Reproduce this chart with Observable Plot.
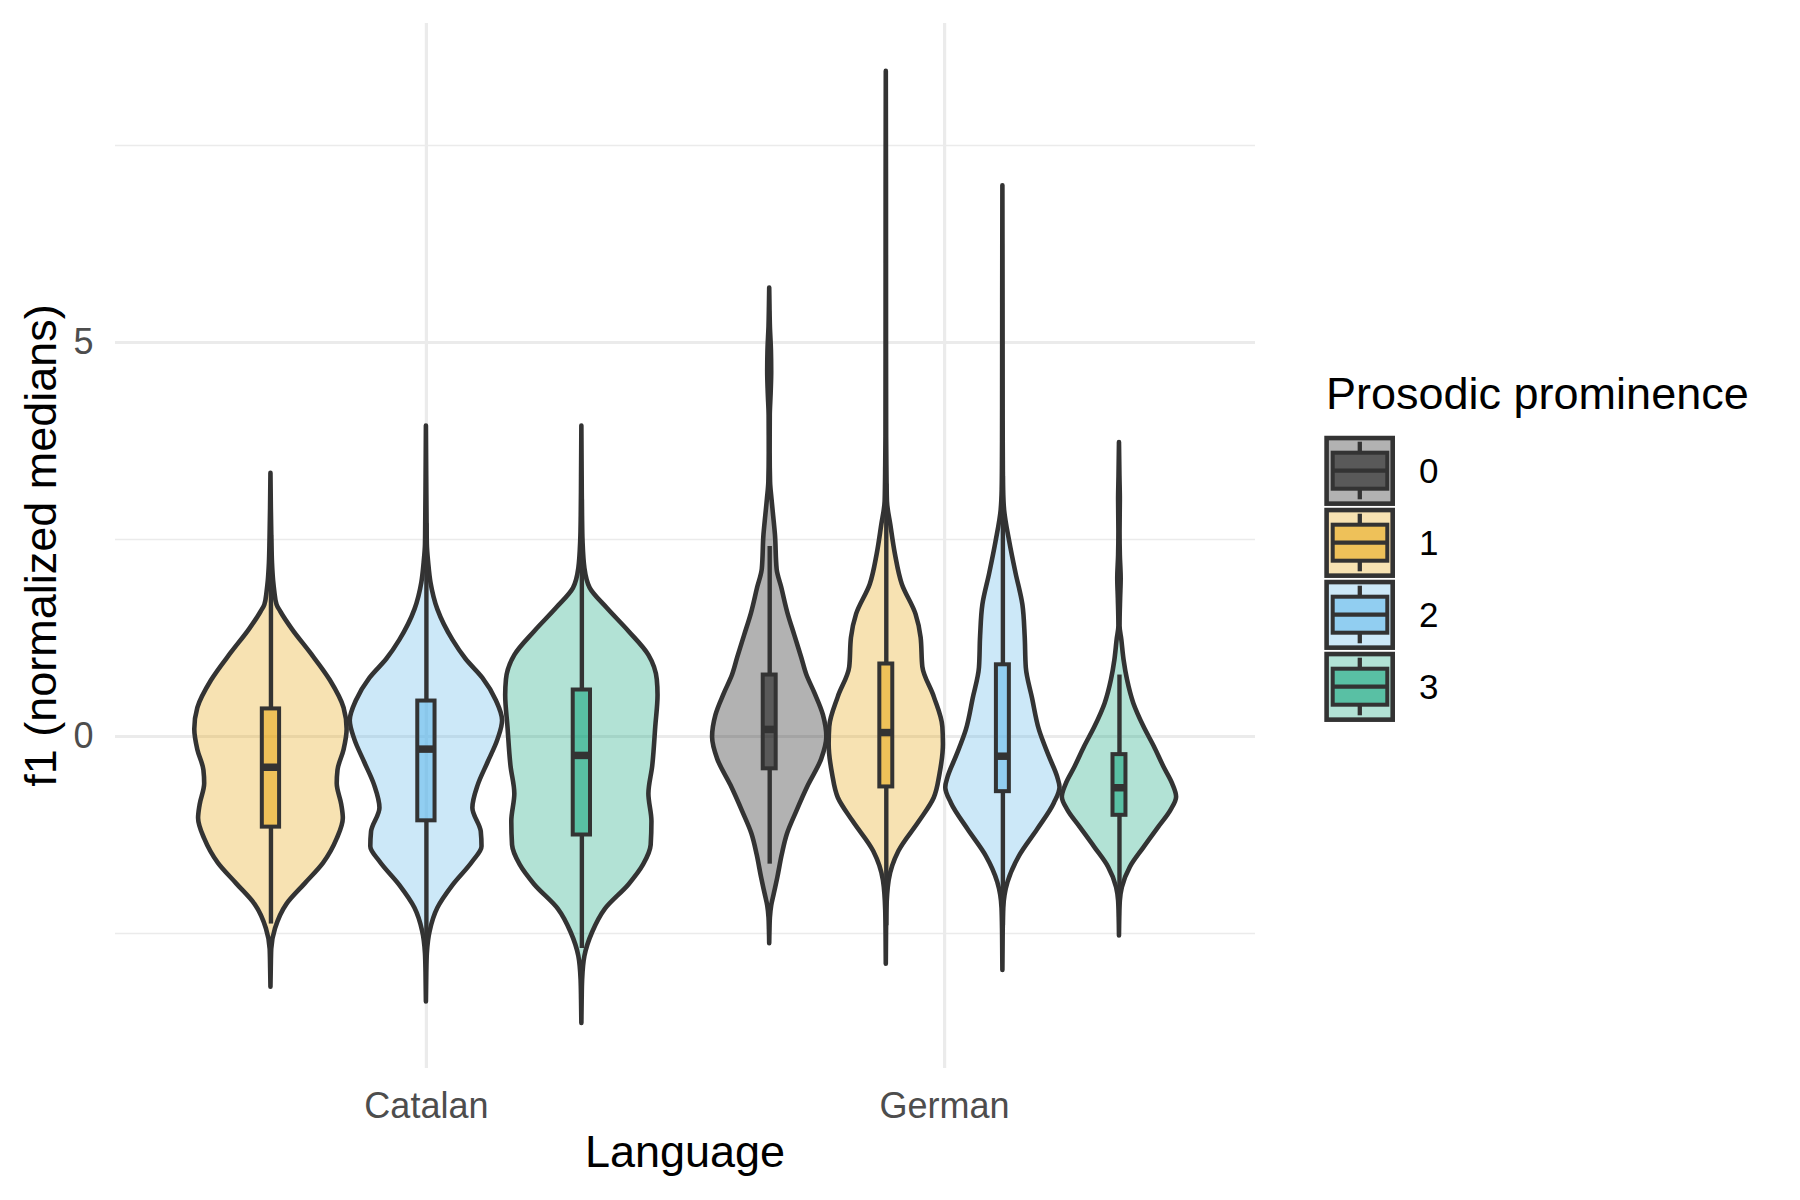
<!DOCTYPE html>
<html>
<head>
<meta charset="utf-8">
<script src="https://cdn.jsdelivr.net/npm/d3@7"></script>
<script src="https://cdn.jsdelivr.net/npm/@observablehq/plot@0.6"></script>
<style>
  body { margin: 0; background: #ffffff; }
  #chart svg { display: block; }
</style>
</head>
<body>
<div id="chart"></div>
<script>
// ---------- data ----------
const languages = ["Catalan", "German"];
const prominenceLevels = ["0", "1", "2", "3"];
const prominenceColors = ["#000000", "#E69F00", "#56B4E9", "#009E73"];

// groups in drawing order
const groupLanguage   = ["Catalan", "Catalan", "Catalan", "German", "German", "German", "German"];
const groupProminence = ["1", "2", "3", "0", "1", "2", "3"];

// violin outlines: [f1 value, relative density width]
const violinCatalan1 = [[3.34,0],[2.9,0.005],[2.5,0.012],[2.2,0.02],[1.97,0.035],[1.84,0.05],[1.67,0.08],[1.58,0.13],[1.36,0.28],[1.06,0.52],[0.71,0.78],[0.36,0.96],[0.09,1.0],[-0.17,0.96],[-0.43,0.88],[-0.6,0.87],[-0.87,0.93],[-1.04,0.95],[-1.3,0.87],[-1.61,0.69],[-1.87,0.45],[-2.13,0.21],[-2.44,0.06],[-2.7,0.01],[-2.95,0.004],[-3.18,0]];
const violinCatalan2 = [[3.94,0],[3.3,0.004],[2.8,0.008],[2.44,0.012],[2.2,0.03],[1.95,0.06],[1.61,0.15],[1.22,0.35],[0.98,0.52],[0.74,0.74],[0.45,0.92],[0.2,1.0],[-0.04,0.94],[-0.33,0.81],[-0.62,0.68],[-0.91,0.61],[-1.21,0.72],[-1.4,0.73],[-1.59,0.61],[-1.89,0.35],[-2.18,0.15],[-2.47,0.05],[-2.76,0.012],[-3.0,0.005],[-3.37,0]];
const violinCatalan3 = [[3.94,0],[3.3,0.004],[2.8,0.008],[2.48,0.015],[2.13,0.04],[1.88,0.11],[1.63,0.33],[1.33,0.62],[1.03,0.88],[0.72,0.99],[0.52,1.0],[0.12,0.97],[-0.38,0.93],[-0.73,0.88],[-1.08,0.92],[-1.38,0.91],[-1.63,0.81],[-1.88,0.62],[-2.19,0.31],[-2.49,0.14],[-2.79,0.04],[-3.09,0.01],[-3.35,0.004],[-3.64,0]];
const violinGerman0  = [[5.69,0],[5.45,0.005],[5.2,0.012],[4.9,0.03],[4.63,0.035],[4.35,0.025],[4.07,0.01],[3.6,0.008],[3.23,0.015],[3.01,0.04],[2.79,0.07],[2.56,0.1],[2.12,0.13],[1.89,0.21],[1.56,0.32],[1.28,0.44],[1.0,0.56],[0.78,0.65],[0.55,0.79],[0.27,0.94],[-0.01,1.0],[-0.29,0.91],[-0.62,0.68],[-0.96,0.47],[-1.24,0.31],[-1.5,0.22],[-1.8,0.14],[-2.0,0.08],[-2.15,0.035],[-2.3,0.012],[-2.45,0.005],[-2.63,0]];
const violinGerman1  = [[8.44,0],[7.0,0.003],[5.0,0.004],[3.8,0.006],[3.44,0.01],[2.98,0.02],[2.68,0.08],[2.31,0.16],[1.93,0.28],[1.55,0.52],[1.25,0.61],[0.88,0.64],[0.5,0.84],[0.12,0.99],[-0.1,1.0],[-0.48,0.94],[-0.78,0.84],[-1.08,0.58],[-1.46,0.22],[-1.83,0.05],[-2.21,0.01],[-2.5,0.004],[-2.89,0]];
const violinGerman2  = [[6.99,0],[5.5,0.003],[4.0,0.005],[3.4,0.008],[3.13,0.012],[2.87,0.03],[2.47,0.12],[2.07,0.23],[1.67,0.35],[1.27,0.39],[0.87,0.41],[0.48,0.52],[0.08,0.64],[-0.25,0.81],[-0.52,0.96],[-0.65,1.0],[-0.85,0.9],[-1.18,0.61],[-1.52,0.29],[-1.85,0.09],[-2.18,0.015],[-2.5,0.005],[-2.97,0]];
const violinGerman3  = [[3.73,0],[3.3,0.008],[3.0,0.015],[2.6,0.01],[2.3,0.015],[2.0,0.03],[1.75,0.02],[1.4,0.01],[1.23,0.04],[0.97,0.08],[0.72,0.14],[0.42,0.25],[0.12,0.43],[-0.13,0.61],[-0.39,0.78],[-0.6,0.93],[-0.77,1.0],[-0.94,0.9],[-1.15,0.69],[-1.41,0.43],[-1.66,0.19],[-1.92,0.05],[-2.09,0.015],[-2.3,0.005],[-2.53,0]];
const violinProfiles = [violinCatalan1, violinCatalan2, violinCatalan3, violinGerman0, violinGerman1, violinGerman2, violinGerman3];

// box plot statistics per group
const boxLower  = [-2.38, -2.70, -2.69, -1.62, -2.40, -2.40, -2.00];
const boxQ1     = [-1.15, -1.07, -1.25, -0.41, -0.64, -0.70, -1.00];
const boxMedian = [-0.39, -0.16, -0.24,  0.09,  0.05, -0.25, -0.65];
const boxQ3     = [ 0.35,  0.45,  0.59,  0.78,  0.92,  0.91, -0.23];
const boxUpper  = [ 2.55,  2.70,  3.00,  2.41,  3.20,  3.30,  0.78];

const yMajorTicks = [0, 5];
const yMinorTicks = [-2.5, 2.5, 7.5];

// ---------- derived layout (ggplot-like dodge) ----------
const dodgeWidth = 0.9, boxWidth = 0.1;
const groups = groupLanguage.map((lang, i) => {
  const members = groupLanguage.map((l, j) => j).filter(j => groupLanguage[j] === lang);
  const n = members.length, k = members.indexOf(i);
  const slot = dodgeWidth / n;
  const center = languages.indexOf(lang) + 1 - dodgeWidth / 2 + slot * (k + 0.5);
  return {
    lang, prom: groupProminence[i],
    color: prominenceColors[prominenceLevels.indexOf(groupProminence[i])],
    center, half: slot / 2 * 0.98, boxHalf: boxWidth / n / 2,
    profile: violinProfiles[i],
    lo: boxLower[i], q1: boxQ1[i], med: boxMedian[i], q3: boxQ3[i], hi: boxUpper[i]
  };
});

const FONT = "'Liberation Sans', Arial, Helvetica, sans-serif";
const OUTLINE = "#333333";
const GRID = "#EBEBEB";

const plot = Plot.plot({
  width: 1800,
  height: 1200,
  marginLeft: 115,
  marginRight: 545,
  marginTop: 23,
  marginBottom: 132,
  x: {domain: [0.4, 2.6], axis: null},
  y: {domain: [-4.213, 9.048], axis: null},
  color: {type: "identity"},
  style: {fontFamily: FONT, background: "#ffffff", overflow: "visible"},
  marks: [
    Plot.gridY(yMinorTicks, {stroke: GRID, strokeOpacity: 1, strokeWidth: 1.7}),
    Plot.gridY(yMajorTicks, {stroke: GRID, strokeOpacity: 1, strokeWidth: 3.2}),
    Plot.gridX([1, 2], {stroke: GRID, strokeOpacity: 1, strokeWidth: 3.2}),
    ...groups.map(g => Plot.areaX(g.profile, {
      y: d => d[0],
      x1: d => g.center - d[1] * g.half,
      x2: d => g.center + d[1] * g.half,
      fill: g.color,
      fillOpacity: 0.3,
      stroke: OUTLINE,
      strokeWidth: 4.6,
      strokeLinejoin: "round",
      curve: "monotone-y"
    })),
    Plot.ruleX(groups, {x: "center", y1: "lo", y2: "q1", stroke: OUTLINE, strokeWidth: 4.4}),
    Plot.ruleX(groups, {x: "center", y1: "q3", y2: "hi", stroke: OUTLINE, strokeWidth: 4.4}),
    Plot.rect(groups, {
      x1: d => d.center - d.boxHalf, x2: d => d.center + d.boxHalf,
      y1: "q1", y2: "q3",
      fill: "color", fillOpacity: 0.5,
      stroke: OUTLINE, strokeWidth: 4
    }),
    Plot.ruleY(groups, {
      y: "med",
      x1: d => d.center - d.boxHalf, x2: d => d.center + d.boxHalf,
      stroke: OUTLINE, strokeWidth: 7.5
    }),
    Plot.axisX([1, 2], {
      tickFormat: d => languages[d - 1],
      tickSize: 0, tickPadding: 23.5,
      fontSize: 36, fill: "#4D4D4D", label: null
    }),
    Plot.axisY(yMajorTicks, {
      tickFormat: d => String(d),
      tickSize: 0, tickPadding: 22,
      fontSize: 36, fill: "#4D4D4D", label: null
    })
  ]
});

const svg = d3.select(plot);

// axis titles
svg.append("text")
  .attr("x", 685).attr("y", 1167)
  .attr("text-anchor", "middle")
  .attr("font-family", FONT).attr("font-size", 45).attr("fill", "#000")
  .text("Language");
svg.append("text")
  .attr("transform", "translate(56,545.5) rotate(-90)")
  .attr("text-anchor", "middle")
  .attr("font-family", FONT).attr("font-size", 45).attr("fill", "#000")
  .text("f1 (normalized medians)");

// legend
const lg = svg.append("g").attr("text-anchor", "start");
lg.append("text")
  .attr("x", 1326).attr("y", 409)
  .attr("text-anchor", "start")
  .attr("font-family", FONT).attr("font-size", 45).attr("fill", "#000")
  .text("Prosodic prominence");
prominenceLevels.forEach((lev, i) => {
  const T = 435.7 + 72 * i;
  const col = prominenceColors[i];
  lg.append("rect").attr("x", 1324.3).attr("y", T).attr("width", 70.7).attr("height", 70.3).attr("fill", "#ffffff");
  lg.append("rect")
    .attr("x", 1326.6).attr("y", T + 2.35).attr("width", 66.1).attr("height", 65.6)
    .attr("fill", col).attr("fill-opacity", 0.3)
    .attr("stroke", OUTLINE).attr("stroke-width", 4.6);
  lg.append("line").attr("x1", 1359.8).attr("x2", 1359.8).attr("y1", T + 6).attr("y2", T + 17)
    .attr("stroke", OUTLINE).attr("stroke-width", 4.3);
  lg.append("line").attr("x1", 1359.8).attr("x2", 1359.8).attr("y1", T + 53).attr("y2", T + 63.6)
    .attr("stroke", OUTLINE).attr("stroke-width", 4.3);
  lg.append("rect")
    .attr("x", 1332.7).attr("y", T + 17).attr("width", 54.6).attr("height", 36)
    .attr("fill", col).attr("fill-opacity", 0.5)
    .attr("stroke", OUTLINE).attr("stroke-width", 4);
  lg.append("line").attr("x1", 1332.7).attr("x2", 1387.3).attr("y1", T + 35).attr("y2", T + 35)
    .attr("stroke", OUTLINE).attr("stroke-width", 4.3);
  lg.append("text")
    .attr("x", 1419).attr("y", T + 47.6)
    .attr("text-anchor", "start")
    .attr("font-family", FONT).attr("font-size", 35).attr("fill", "#000")
    .text(lev);
});

document.getElementById("chart").appendChild(plot);
</script>
</body>
</html>
